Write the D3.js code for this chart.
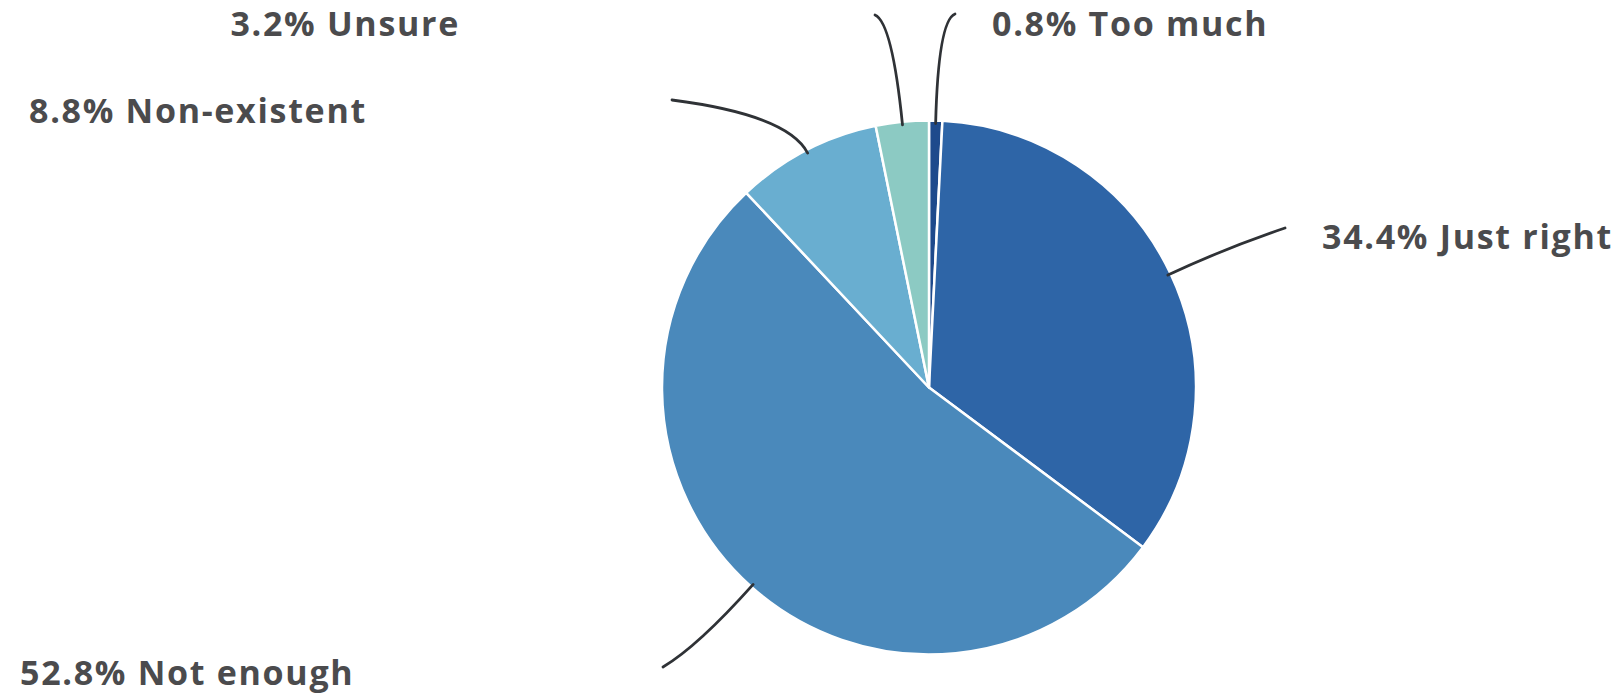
<!DOCTYPE html>
<html>
<head>
<meta charset="utf-8">
<script src="https://cdn.jsdelivr.net/npm/d3@7"></script>
<style>
  html, body { margin: 0; padding: 0; background: #ffffff; }
  svg { display: block; }
  .label { font-family: "Open Sans", Lato, sans-serif; font-weight: 700; fill: #4b4b4d; letter-spacing: 1.7px; }
</style>
</head>
<body>
<svg id="chart" width="1619" height="694"></svg>
<script>
// Survey answers, in clockwise order from 12 o'clock
const categories = ["Too much", "Just right", "Not enough", "Non-existent", "Unsure"];
const shares = [0.8, 34.4, 52.8, 8.8, 3.2];
const sliceColors = ["#1e4a8c", "#2e65a7", "#4a89bb", "#69aed0", "#8ccac3"];

// Label placement: text baseline position, anchor, leader end point and how far the bend reaches past the rim
const labelLayout = [
  { tx: 992,  ty: 36,  anchor: "start", ex: 955, ey: 14,  bend: 100 },
  { tx: 1322, ty: 249, anchor: "start", ex: 1285, ey: 228, bend: 60 },
  { tx: 20,   ty: 685, anchor: "start", ex: 663, ey: 667, bend: 80 },
  { tx: 29,   ty: 123, anchor: "start", ex: 672, ey: 100, bend: 40 },
  { tx: 460,  ty: 36,  anchor: "end",   ex: 875, ey: 15,  bend: 100 }
];

const width = 1619, height = 694;
const cx = 929, cy = 387.5, radius = 267;

const data = categories.map((c, i) => ({ category: c, value: shares[i], color: sliceColors[i], layout: labelLayout[i] }));

const svg = d3.select("#chart");
const g = svg.append("g").attr("transform", `translate(${cx},${cy})`);

const pie = d3.pie().sort(null).value(d => d.value).startAngle(0).endAngle(2 * Math.PI);
const arcs = pie(data);

const arc = d3.arc().innerRadius(0).outerRadius(radius);

// Leader lines: start at the rim on the slice's mid angle, bend outward, end near the label
const leaders = svg.append("g");
arcs.forEach(a => {
  const L = a.data.layout;
  const rim = d3.arc().innerRadius(radius - 3).outerRadius(radius - 3).centroid(a);
  const bendPt = d3.arc().innerRadius(radius + L.bend).outerRadius(radius + L.bend).centroid(a);
  const p = d3.path();
  p.moveTo(cx + rim[0], cy + rim[1]);
  p.quadraticCurveTo(cx + bendPt[0], cy + bendPt[1], L.ex, L.ey);
  leaders.append("path")
    .attr("d", p.toString())
    .attr("fill", "none")
    .attr("stroke", "#2f3236")
    .attr("stroke-width", 2.8)
    .attr("stroke-linecap", "round");
});

// Slices
g.selectAll("path.slice")
  .data(arcs)
  .join("path")
  .attr("class", "slice")
  .attr("d", arc)
  .attr("fill", d => d.data.color)
  .attr("stroke", "#ffffff")
  .attr("stroke-width", 2.5)
  .attr("stroke-linejoin", "round");

// Labels
svg.append("g").selectAll("text")
  .data(arcs)
  .join("text")
  .attr("class", "label")
  .attr("x", d => d.data.layout.tx)
  .attr("y", d => d.data.layout.ty)
  .attr("text-anchor", d => d.data.layout.anchor)
  .attr("font-size", 34)
  .text(d => `${d.data.value.toFixed(1)}% ${d.data.category}`);
</script>
</body>
</html>
